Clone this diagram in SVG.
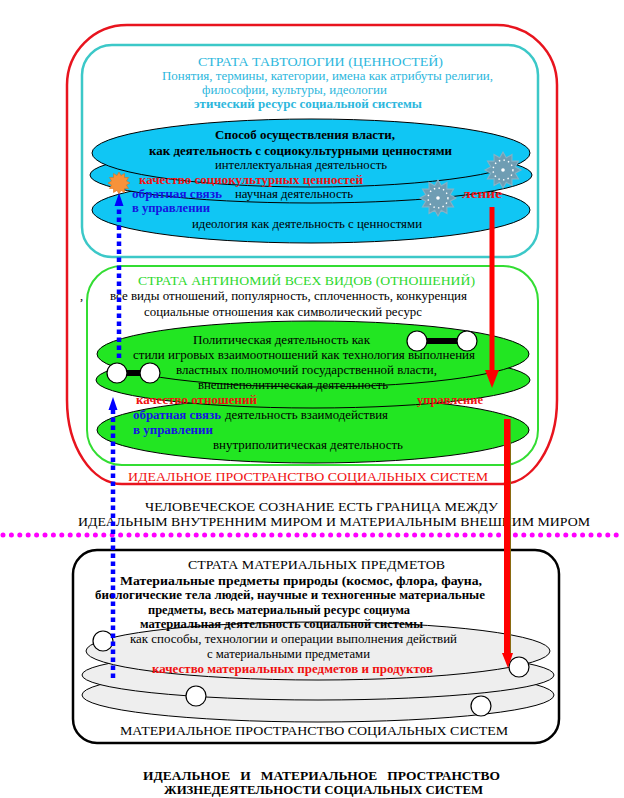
<svg xmlns="http://www.w3.org/2000/svg" xmlns:xlink="http://www.w3.org/1999/xlink" width="624" height="798" viewBox="0 0 624 798">
<style>
.t{font-family:"Liberation Serif","Times New Roman",serif;font-size:12.5px;fill:#000}
.b{font-weight:bold}
.cy{fill:#2DB7DD}
.gr{fill:#2ED82E}
.rd{fill:#F01010}
.bl{fill:#1515E0}
.cap{font-size:13px}
.lay{stroke:#000;stroke-width:1}
.cb{fill:#10C6F4}
.gb{fill:#22E622}
.mb{fill:#EEEEEE}
.wc{fill:#fff;stroke:#000;stroke-width:1.2}
.dotb{fill:none;stroke:#0000FF;stroke-width:4.5;stroke-dasharray:4.5 3.5}
</style>
<defs>
<polygon id="star" points="10,0 6.76,1.81 8.66,5 4.95,4.95 5,8.66 1.81,6.76 0,10 -1.81,6.76 -5,8.66 -4.95,4.95 -8.66,5 -6.76,1.81 -10,0 -6.76,-1.81 -8.66,-5 -4.95,-4.95 -5,-8.66 -1.81,-6.76 0,-10 1.81,-6.76 5,-8.66 4.95,-4.95 8.66,-5 6.76,-1.81"/>
<g id="gear">
<use xlink:href="#star" fill="#6F9DB3" stroke="#86B2C6" stroke-width="0.6"/>
<circle r="5.5" fill="none" stroke="#fff" stroke-width="0.8" stroke-dasharray="0.8 1.8"/>
<circle r="1" fill="#fff"/>
</g>
</defs>
<rect width="624" height="798" fill="#fff"/>

<g id="ideal-space">
<path d="M127,25 H497 A60,60 0 0 1 557,85 V400 A55,84 0 0 1 502,484 H122 A55,84 0 0 1 67,400 V85 A60,60 0 0 1 127,25 Z" fill="none" stroke="#E8141E" stroke-width="2.5"/>
<text class="t rd cap" x="128" y="481" textLength="360" lengthAdjust="spacingAndGlyphs">ИДЕАЛЬНОЕ ПРОСТРАНСТВО СОЦИАЛЬНЫХ СИСТЕМ</text>
</g>

<g id="strata-tautology">
<rect x="82" y="45" width="456" height="212" rx="30" fill="none" stroke="#3CC8C8" stroke-width="2.5"/>
<text class="t cy" x="198" y="66" textLength="245" lengthAdjust="spacingAndGlyphs">СТРАТА ТАВТОЛОГИИ (ЦЕННОСТЕЙ)</text>
<text class="t cy" x="162" y="80" textLength="331" lengthAdjust="spacingAndGlyphs">Понятия, термины, категории, имена как атрибуты религии,</text>
<text class="t cy" x="202" y="94" textLength="185" lengthAdjust="spacingAndGlyphs">философии, культуры, идеологии</text>
<text class="t cy b" x="194" y="108" textLength="228" lengthAdjust="spacingAndGlyphs">этический ресурс социальной системы</text>
</g>

<g id="tautology-layers">
<ellipse class="cb lay" cx="311" cy="210" rx="219" ry="33"/>
<ellipse class="cb lay" cx="311" cy="175" rx="221" ry="28"/>
<ellipse class="cb lay" cx="311" cy="153" rx="219" ry="34"/>
<text class="t b" x="215" y="139" textLength="180" lengthAdjust="spacingAndGlyphs">Способ осуществления власти,</text>
<text class="t b" x="149" y="155" textLength="303" lengthAdjust="spacingAndGlyphs">как деятельность с социокультурными ценностями</text>
<text class="t" x="215" y="169" textLength="172" lengthAdjust="spacingAndGlyphs">интеллектуальная деятельность</text>
<text class="t b rd" x="139" y="184" textLength="224" lengthAdjust="spacingAndGlyphs">качество социокультурных ценностей</text>
<text class="t b bl" x="132" y="198" textLength="90" lengthAdjust="spacingAndGlyphs">обратная связь</text>
<text class="t" x="235" y="198" textLength="118" lengthAdjust="spacingAndGlyphs">научная деятельность</text>
<text class="t b bl" x="132" y="212" textLength="78" lengthAdjust="spacingAndGlyphs">в управлении</text>
<text class="t" x="192" y="228" textLength="230" lengthAdjust="spacingAndGlyphs">идеология как деятельность с ценностями</text>
<text class="t b rd" x="462" y="198" textLength="40" lengthAdjust="spacingAndGlyphs">ление</text>
<use xlink:href="#star" transform="translate(119,183) scale(1.1)" fill="#F7923A" stroke="#E06A10" stroke-width="0.5"/>
<use xlink:href="#gear" transform="translate(503,170) scale(1.8)"/>
<use xlink:href="#gear" transform="translate(438,198) scale(1.8)"/>
</g>

<g id="strata-antinomy">
<rect x="87" y="266" width="451" height="199" rx="35" fill="none" stroke="#33DD33" stroke-width="2"/>
<text class="t gr" x="138" y="285" textLength="337" lengthAdjust="spacingAndGlyphs">СТРАТА АНТИНОМИЙ ВСЕХ ВИДОВ (ОТНОШЕНИЙ)</text>
<text class="t" x="80" y="300">,</text>
<text class="t" x="110" y="300" textLength="357" lengthAdjust="spacingAndGlyphs">все виды отношений, популярность, сплоченность, конкуренция</text>
<text class="t" x="144" y="316" textLength="278" lengthAdjust="spacingAndGlyphs">социальные отношения как символический ресурс</text>
</g>

<g id="antinomy-layers">
<ellipse class="gb lay" cx="313" cy="430" rx="216" ry="33"/>
<ellipse class="gb lay" cx="313" cy="380" rx="217" ry="28"/>
<ellipse class="gb lay" cx="313" cy="354" rx="216" ry="33"/>
<text class="t" x="193" y="344" textLength="177" lengthAdjust="spacingAndGlyphs">Политическая деятельность как</text>
<text class="t" x="133" y="359" textLength="342" lengthAdjust="spacingAndGlyphs">стили игровых взаимоотношений как технология выполнения</text>
<text class="t" x="176" y="374" textLength="261" lengthAdjust="spacingAndGlyphs">властных полномочий государственной власти,</text>
<text class="t" x="198" y="389" textLength="190" lengthAdjust="spacingAndGlyphs">внешнеполитическая деятельность</text>
<text class="t b rd" x="136" y="404" textLength="121" lengthAdjust="spacingAndGlyphs">качество отношений</text>
<text class="t b rd" x="417" y="404" textLength="66" lengthAdjust="spacingAndGlyphs">управление</text>
<text class="t b bl" x="133" y="419" textLength="88" lengthAdjust="spacingAndGlyphs">обратная связь</text>
<text class="t" x="225" y="419" textLength="163" lengthAdjust="spacingAndGlyphs">деятельность взаимодействия</text>
<text class="t b bl" x="133" y="434" textLength="80" lengthAdjust="spacingAndGlyphs">в управлении</text>
<text class="t" x="213" y="449" textLength="190" lengthAdjust="spacingAndGlyphs">внутриполитическая деятельность</text>
<rect x="125" y="370" width="18" height="6" fill="#000"/>
<circle class="wc" cx="117" cy="373" r="10"/>
<circle class="wc" cx="150" cy="373" r="10"/>
<rect x="425" y="338" width="35" height="6" fill="#000"/>
<circle class="wc" cx="417" cy="341" r="10"/>
<circle class="wc" cx="467" cy="341" r="10"/>
</g>

<g id="boundary">
<text class="t cap" x="145" y="511" textLength="353" lengthAdjust="spacingAndGlyphs">ЧЕЛОВЕЧЕСКОЕ СОЗНАНИЕ ЕСТЬ ГРАНИЦА МЕЖДУ</text>
<text class="t cap" x="78" y="526" textLength="512" lengthAdjust="spacingAndGlyphs">ИДЕАЛЬНЫМ ВНУТРЕННИМ МИРОМ И МАТЕРИАЛЬНЫМ ВНЕШНИМ МИРОМ</text>
<line x1="3" y1="535" x2="624" y2="535" stroke="#FF00FF" stroke-width="5" stroke-linecap="round" stroke-dasharray="0 8.4"/>
</g>

<g id="strata-material">
<rect x="73" y="550" width="486" height="193" rx="24" fill="none" stroke="#000" stroke-width="2.5"/>
<text class="t cap" x="188" y="569" textLength="257" lengthAdjust="spacingAndGlyphs">СТРАТА МАТЕРИАЛЬНЫХ ПРЕДМЕТОВ</text>
<text class="t b" x="120" y="585" textLength="362" lengthAdjust="spacingAndGlyphs">Материальные предметы природы (космос, флора, фауна,</text>
<text class="t b" x="95" y="599" textLength="390" lengthAdjust="spacingAndGlyphs">биологические тела людей, научные и техногенные материальные</text>
<text class="t b" x="148" y="614" textLength="262" lengthAdjust="spacingAndGlyphs">предметы, весь материальный ресурс социума</text>
<text class="t cap" x="120" y="735" textLength="388" lengthAdjust="spacingAndGlyphs">МАТЕРИАЛЬНОЕ ПРОСТРАНСТВО СОЦИАЛЬНЫХ СИСТЕМ</text>
</g>

<g id="material-layers">
<ellipse class="mb lay" cx="318" cy="695" rx="236" ry="27"/>
<ellipse class="mb lay" cx="318" cy="675" rx="236" ry="25"/>
<ellipse class="mb lay" cx="318" cy="651" rx="232" ry="29"/>
<text class="t b" x="140" y="628" textLength="283" lengthAdjust="spacingAndGlyphs">материальная деятельность социальной системы</text>
<text class="t" x="130" y="643" textLength="327" lengthAdjust="spacingAndGlyphs">как способы, технологии и операции выполнения действий</text>
<text class="t" x="207" y="658" textLength="163" lengthAdjust="spacingAndGlyphs">с материальными предметами</text>
<text class="t b rd" x="152" y="673" textLength="281" lengthAdjust="spacingAndGlyphs">качество материальных предметов и продуктов</text>
<circle class="wc" cx="103" cy="641" r="10"/>
<circle class="wc" cx="196" cy="696" r="10"/>
<circle class="wc" cx="481" cy="706" r="10"/>
<circle class="wc" cx="519" cy="667" r="10"/>
</g>

<g id="title">
<text class="t b cap" x="143" y="780" textLength="357" lengthAdjust="spacingAndGlyphs" xml:space="preserve">ИДЕАЛЬНОЕ   И   МАТЕРИАЛЬНОЕ   ПРОСТРАНСТВО</text>
<text class="t b cap" x="164" y="794" textLength="319" lengthAdjust="spacingAndGlyphs">ЖИЗНЕДЕЯТЕЛЬНОСТИ СОЦИАЛЬНЫХ СИСТЕМ</text>
</g>

<g id="connectors">
<line class="dotb" x1="119" y1="358" x2="119" y2="206"/>
<polygon points="119,193 114.5,206 123.5,206" fill="#0000FF"/>
<line class="dotb" x1="113" y1="678" x2="113" y2="410"/>
<polygon points="113,397 108.5,410 117.5,410" fill="#0000FF"/>
<rect x="489.5" y="207" width="5" height="166" fill="#FF0000"/>
<polygon points="485,370 499,370 492,388" fill="#FF0000"/>
<rect x="504" y="419" width="6" height="236" fill="#FF0000"/>
<line x1="510.5" y1="419" x2="510.5" y2="655" stroke="#8A6A10" stroke-width="1"/>
<polygon points="502,653 513,653 508,668" fill="#FF0000"/>
</g>
</svg>
